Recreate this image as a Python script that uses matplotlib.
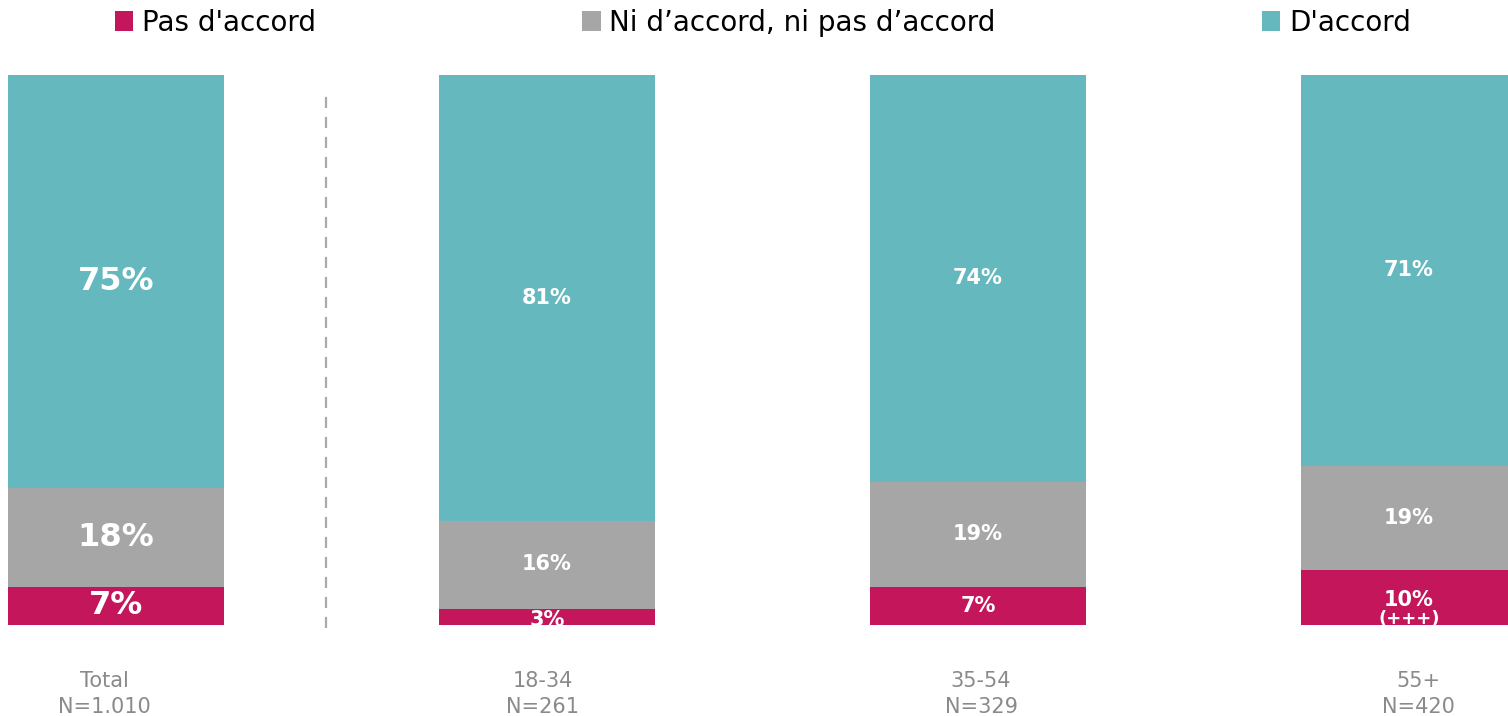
import matplotlib.pyplot as plt
from matplotlib.patches import Patch

# ------------------ Data --------------------

groups = ['Total', '18-34', '35-54', '55+']
sizes = ['N=1.010', 'N=261', 'N=329', 'N=420']
pas_accord = [7, 3, 7, 10]
ni_ni = [18, 16, 19, 19]
accord = [75, 81, 74, 71]
notes = ['', '', '', '(+++)']

series_names = ["Pas d'accord", "Ni d\u2019accord, ni pas d\u2019accord", "D'accord"]
colors = ['#C4175B', '#A6A6A6', '#66B8BF']

# ------------------ Plot --------------------

plt.rcParams['font.family'] = ['DejaVu Sans']

fig = plt.figure(figsize=(15.08, 7.16), dpi=100)
ax = fig.add_axes([0, 1 - 625 / 716, 1, 550 / 716])

xpos = list(range(len(groups)))
width = 0.501

bottom = [0] * len(groups)
for name, vals, col in zip(series_names, [pas_accord, ni_ni, accord], colors):
    ax.bar(xpos, vals, width=width, bottom=bottom, color=col, label=name)
    for i, v in enumerate(vals):
        size = 23 if i == 0 else 15
        yc = bottom[i] + v / 2
        if name == "Pas d'accord" and notes[i]:
            ax.text(xpos[i], yc - 0.4, f'{v}%', ha='center', va='center',
                    color='white', fontsize=size, fontweight='bold')
            ax.text(xpos[i], yc - 4.0, notes[i], ha='center', va='center',
                    color='white', fontsize=13, fontweight='bold', clip_on=True)
        elif v < 5:
            ax.text(xpos[i], yc - 0.6, f'{v}%', ha='center', va='center',
                    color='white', fontsize=size, fontweight='bold', clip_on=True)
        else:
            ax.text(xpos[i], yc, f'{v}%', ha='center', va='center',
                    color='white', fontsize=size, fontweight='bold', clip_on=True)
    bottom = [b + v for b, v in zip(bottom, vals)]

ax.set_xlim(-116 / 431, (1508 - 116) / 431)
ax.set_ylim(0, 100)
ax.axis('off')

# separator between Total and age groups
ax.plot([0.487, 0.487], [-0.5, 96.4], color='#AAAAAA', lw=1.6,
        linestyle=(0, (5, 4)), clip_on=False)

# category labels under the bars
label_x = [-0.026, 0.99, 2.007, 3.023]
for lx, g, n in zip(label_x, groups, sizes):
    ax.text(lx, -10.2, g, ha='center', va='center', color='#8A8A8A',
            fontsize=15, clip_on=False)
    ax.text(lx, -14.9, n, ha='center', va='center', color='#8A8A8A',
            fontsize=15, clip_on=False)

handles = [Patch(facecolor=c, edgecolor='none') for c in colors]
fig.legend(handles, series_names, loc='center', bbox_to_anchor=(0.506, 0.968),
           ncol=3, frameon=False, fontsize=20, handlelength=0.65,
           handleheight=0.72, handletextpad=0.32, columnspacing=9.6)

fig.savefig('out.png', dpi=100)
